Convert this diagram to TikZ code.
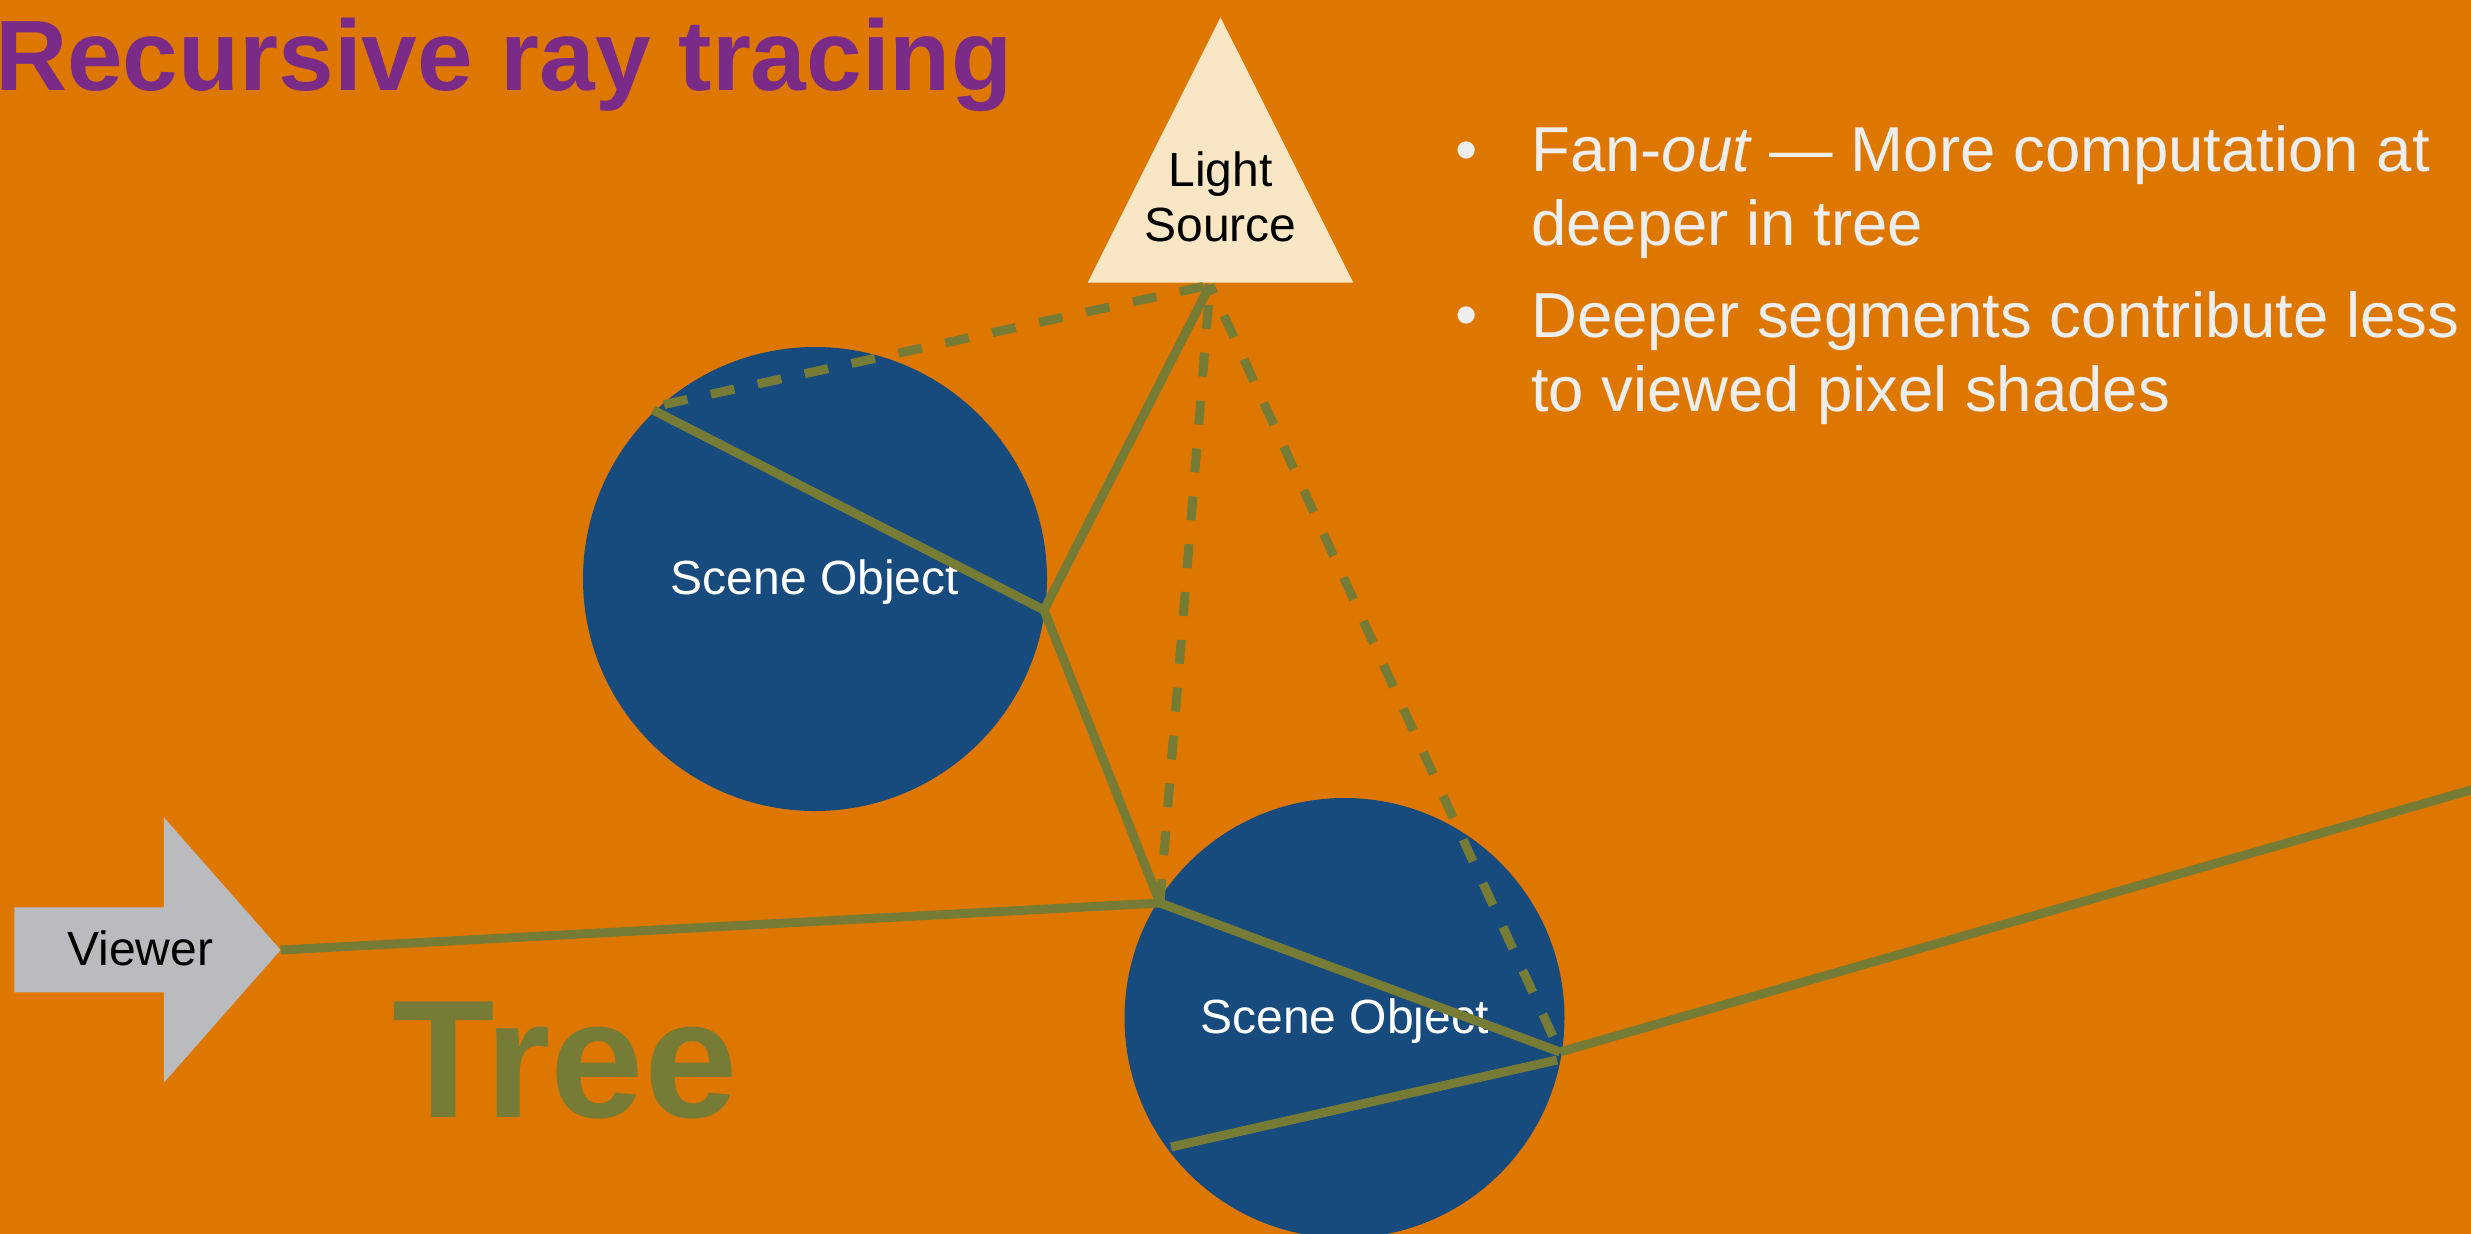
\documentclass[tikz,border=0pt]{standalone}
\usepackage{fontspec}
\setmainfont{Liberation Sans}
\definecolor{slidebg}{RGB}{222,119,0}
\definecolor{objblue}{RGB}{23,74,125}
\definecolor{rayolive}{RGB}{118,123,53}
\definecolor{titlepurple}{RGB}{122,43,136}
\definecolor{viewergray}{RGB}{186,187,191}
\definecolor{lightcream}{RGB}{249,230,197}
\definecolor{bullettext}{RGB}{238,238,238}
\begin{document}
\begin{tikzpicture}[x=1pt,y=-1pt,
  sceneobj/.style={circle, fill=objblue, inner sep=0pt, text=white,
    font=\fontsize{48}{55}\selectfont, text height=30pt, text depth=0pt},
  ray/.style={draw=rayolive, line width=9pt, line cap=butt},
  shadowray/.style={ray, dash pattern=on 24pt off 24pt},
  label/.style={inner sep=0pt, anchor=base west},
  bodytext/.style={label, text=bullettext, align=left,
    font=\fontsize{63.5}{74.7}\selectfont}]

% canvas
\useasboundingbox (0,0) rectangle (2471,1234);
\clip (0,0) rectangle (2471,1234);
\fill[slidebg] (0,0) rectangle (2471,1234);

% title
\node[label, text=titlepurple, font=\fontsize{100}{120}\selectfont\bfseries]
  (title) at (-5,90.7) {Recursive ray tracing};

% light source (multi-line nodes sit on the baseline of their last line)
\fill[lightcream] (1087.7,282.7) -- (1220.5,17.3) -- (1353.3,282.7) -- cycle;
\node[inner sep=0pt, anchor=base, align=center,
  font=\fontsize{48}{55}\selectfont] (light) at (1220.5,241.7) {Light\\Source};
\coordinate (lsrc) at (1210,285);

% viewer
\fill[viewergray] (14.3,907.3) -- (163.8,907.3) -- (163.8,817.3) -- (280.6,950)
  -- (163.8,1082.7) -- (163.8,992.3) -- (14.3,992.3) -- cycle;
\node[label, font=\fontsize{48}{55}\selectfont] (viewer) at (67,965) {Viewer};
\coordinate (eye) at (280.6,950);

% scene objects
\node[sceneobj, minimum size=464pt] (obj1) at (815,579) {Scene Object};
\node[sceneobj, minimum size=440pt] (obj2) at (1344.5,1018) {Scene Object};

% hit points
\coordinate (h1) at (1160,903);
\coordinate (h2) at (1044,610);
\coordinate (h3) at (653,410);
\coordinate (h3s) at (664,404.5);
\coordinate (h4) at (1560,1052);
\coordinate (h4b) at (1557,1060);
\coordinate (h5) at (1171,1147);
\coordinate (away) at (2480,787.4);

% traced rays
\draw[ray] (eye) -- (h1);
\draw[ray] (h1) -- (h2);
\draw[ray] (h2) -- (lsrc);
\draw[ray] (h2) -- (h3);
\draw[ray] (h1) -- (h4);
\draw[ray] (h4) -- (away);
\draw[ray] (h4b) -- (h5);

% shadow rays
\draw[shadowray] (h3s) -- (lsrc);
\draw[shadowray] (h1) -- (lsrc);
\draw[shadowray, dash phase=30.5pt] (h4) -- (lsrc);

% big label
\node[label, text=rayolive, font=\fontsize{168}{200}\selectfont\bfseries]
  (tree) at (392,1117.7) {Tree};

% bullet list
\node[label, text=bullettext, font=\fontsize{63.5}{74.7}\selectfont] (b1) at (1455,171) {•};
\node[bodytext] (t1) at (1531,245.7) {Fan-\textit{out} — More computation at\\deeper in tree};
\node[label, text=bullettext, font=\fontsize{63.5}{74.7}\selectfont] (b2) at (1455,336.7) {•};
\node[bodytext] (t2) at (1531,411.7) {Deeper segments contribute less\\to viewed pixel shades};
\end{tikzpicture}
\end{document}
